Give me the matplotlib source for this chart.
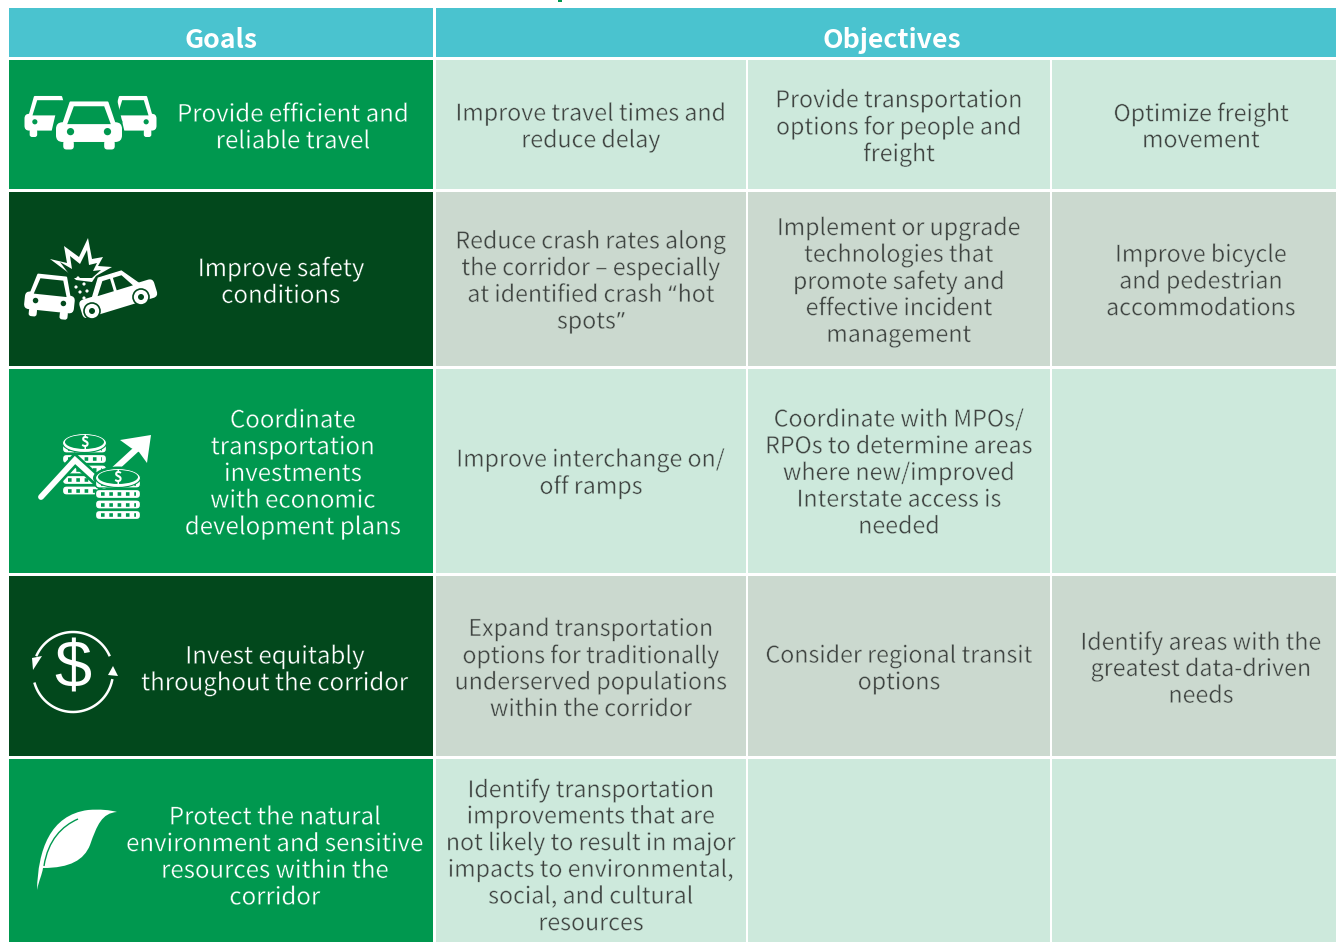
import matplotlib
matplotlib.use("Agg")
import matplotlib.pyplot as plt
import matplotlib.patheffects as pe
import numpy as np
from matplotlib.patches import Rectangle, Ellipse, Polygon, PathPatch, FancyBboxPatch, Circle
from matplotlib.path import Path
import matplotlib.transforms as mtrans

plt.rcParams['font.family'] = ['Noto Sans CJK SC', 'DejaVu Sans']

headers = ["Goals", "Objectives"]
goals = [
    ["Provide efficient and", "reliable travel"],
    ["Improve safety", "conditions"],
    ["Coordinate", "transportation", "investments", "with economic", "development plans"],
    ["Invest equitably", "throughout the corridor"],
    ["Protect the natural", "environment and sensitive", "resources within the", "corridor"],
]
objectives_1 = [
    ["Improve travel times and", "reduce delay"],
    ["Reduce crash rates along", "the corridor \u2013 especially", "at identified crash \u201chot", "spots\u201d"],
    ["Improve interchange on/", "off ramps"],
    ["Expand transportation", "options for traditionally", "underserved populations", "within the corridor"],
    ["Identify transportation", "improvements that are", "not likely to result in major", "impacts to environmental,", "social, and cultural", "resources"],
]
objectives_2 = [
    ["Provide transportation", "options for people and", "freight"],
    ["Implement or upgrade", "technologies that", "promote safety and", "effective incident", "management"],
    ["Coordinate with MPOs/", "RPOs to determine areas", "where new/improved", "Interstate access is", "needed"],
    ["Consider regional transit", "options"],
    [],
]
objectives_3 = [
    ["Optimize freight", "movement"],
    ["Improve bicycle", "and pedestrian", "accommodations"],
    [],
    ["Identify areas with the", "greatest data-driven", "needs"],
    [],
]

TEAL = "#4ac3cf"
GREEN = "#00984f"
DARK = "#02481c"
LIGHT = "#cde9dc"
GREY = "#cbd9cf"
INK = "#3f4441"

col_x = [(9, 433), (436, 746), (748, 1050), (1052, 1336)]
row_y = [(60, 189), (192, 366), (369, 573), (576, 756), (759, 942)]
goal_cx = [293, 281, 293, 275, 275]
row_cy = [125, 279.5, 471, 667, 854.5]
LINE = 26.7

fig = plt.figure(figsize=(13.36, 9.42), dpi=100)
ax = fig.add_axes([0, 0, 1, 1])
ax.set_xlim(0, 1336)
ax.set_ylim(942, 0)
ax.axis('off')
renderer = fig.canvas.get_renderer()


def rect(x0, x1, y0, y1, c):
    ax.add_patch(Rectangle((x0, y0), x1 - x0, y1 - y0, fc=c, ec='none', zorder=1))


def quoted_line(s, cx, y, kw):
    # the CJK font has full width curly quotes, so those come from plain Noto Sans
    parts = []
    for piece in s.replace("\u201c", "|\u201c|").replace("\u201d", "|\u201d|").split("|"):
        if piece.strip():
            parts.append(piece.strip())
    texts = []
    for piece in parts:
        fam = 'Noto Sans' if piece in "\u201c\u201d" else 'Noto Sans CJK SC'
        texts.append(ax.text(0, y, piece, family=fam, ha='left', va='center_baseline', **kw))
    widths = [t.get_window_extent(renderer).width for t in texts]
    gap = [6 if p.endswith("crash") else 1 for p in parts]
    total = sum(widths) + sum(gap[:-1])
    x = cx - total / 2
    for t, w, g in zip(texts, widths, gap):
        t.set_x(x)
        x += w + g


def block(lines, cx, cy, color, bg, size, thin):
    n = len(lines)
    kw = dict(color=color, fontsize=size, zorder=5,
              path_effects=[pe.Stroke(linewidth=thin, foreground=bg)])
    for i, s in enumerate(lines):
        y = cy + (i - (n - 1) / 2) * LINE
        if "\u201c" in s or "\u201d" in s:
            quoted_line(s, cx, y, kw)
        else:
            ax.text(cx, y, s, ha='center', va='center_baseline', **kw)


# header
rect(9, 433, 8, 57, TEAL)
rect(436, 1336, 8, 57, TEAL)
ax.text(221, 37, headers[0], color='white', fontsize=19.2, weight='bold', ha='center', va='center_baseline')
ax.text(892, 37, headers[1], color='white', fontsize=19.2, weight='bold', ha='center', va='center_baseline')
rect(558, 562, 0, 2, GREEN)

for i, (y0, y1) in enumerate(row_y):
    odd = i % 2 == 1
    bg = GREY if odd else LIGHT
    gbg = DARK if odd else GREEN
    rect(col_x[0][0], col_x[0][1], y0, y1, gbg)
    for x0, x1 in col_x[1:]:
        rect(x0, x1, y0, y1, bg)
    block(goals[i], goal_cx[i], row_cy[i], 'white', gbg, 17.3, 0.25)
    block(objectives_1[i], 591, row_cy[i], INK, bg, 16.7, 0.3)
    block(objectives_2[i], 899, row_cy[i], INK, bg, 16.7, 0.3)
    block(objectives_3[i], 1201, row_cy[i], INK, bg, 16.7, 0.3)


def car(cx, cy, w, h, bg, angle=0, z=3):
    # front view of a car
    tr = mtrans.Affine2D().rotate_deg_around(cx, cy, angle) + ax.transData

    def add(p):
        p.set_transform(tr)
        ax.add_patch(p)
    add(FancyBboxPatch((cx - w / 2, cy - h * 0.08), w, h * 0.42, boxstyle="round,pad=0,rounding_size=%f" % (w * 0.1),
                       fc='white', ec='none', zorder=z))
    add(Polygon([(cx - w * .40, cy), (cx - w * .28, cy - h * .5), (cx + w * .28, cy - h * .5), (cx + w * .40, cy)],
                fc='white', ec='white', lw=1.5, joinstyle='round', zorder=z))
    add(Polygon([(cx - w * .33, cy - h * .04), (cx - w * .23, cy - h * .42), (cx + w * .23, cy - h * .42), (cx + w * .33, cy - h * .04)],
                fc=bg, ec='none', zorder=z))
    for s in (-1, 1):
        add(FancyBboxPatch((cx + s * w * .31 - w * .08, cy + h * .3), w * .16, h * .2,
                           boxstyle="round,pad=0,rounding_size=%f" % (w * .05), fc='white', ec='none', zorder=z))
        add(Circle((cx + s * w * .28, cy + h * .12), w * .055, fc=bg, ec='none', zorder=z + 0.1))


# traffic icon
car(48, 117, 47, 40, GREEN)
car(133, 117, 47, 40, GREEN)
ax.add_patch(Polygon([(51, 146), (61, 103), (115, 103), (125, 146)], fc=GREEN, ec=GREEN, lw=4, zorder=3.5))
car(89, 126, 66, 47, GREEN, z=4)

# crash icon
car(50, 297, 50, 42, DARK, angle=6)
tr = mtrans.Affine2D().rotate_deg_around(115, 295, -17) + ax.transData
p = FancyBboxPatch((78, 290), 78, 19, boxstyle="round,pad=0,rounding_size=5", fc='white', ec='none', zorder=3.4)
p.set_transform(tr)
ax.add_patch(p)
p = Polygon([(92, 292), (104, 274), (128, 274), (142, 292)], fc='white', ec='white', lw=1, zorder=3.4)
p.set_transform(tr)
ax.add_patch(p)
for pts in ([(98, 291), (107, 278), (115, 278), (115, 291)], [(118, 291), (118, 278), (127, 278), (135, 291)]):
    p = Polygon(pts, fc=DARK, ec='none', zorder=3.5)
    p.set_transform(tr)
    ax.add_patch(p)
for wx, wy in ((92, 311), (141, 297)):
    ax.add_patch(Circle((wx, wy), 8, fc='white', ec=DARK, lw=1.2, zorder=3.6))
    ax.add_patch(Circle((wx, wy), 3, fc=DARK, ec='none', zorder=3.7))
ax.add_patch(Polygon([(50, 259), (67, 263), (64, 246), (79, 257), (88, 238), (92, 259), (103, 257), (98, 266), (112, 267),
                      (96, 276), (92, 282), (76, 280), (70, 274)], fc='white', ec='none', zorder=2.5))
ax.add_patch(Polygon([(60, 262), (72, 269), (70, 256), (80, 264), (87, 250), (89, 265), (97, 263), (93, 271), (101, 270),
                      (92, 278), (72, 278)], fc=DARK, ec='none', zorder=2.6))
for x, y in ((78, 278), (84, 284), (76, 287), (87, 291), (80, 292), (84, 298)):
    ax.add_patch(Circle((x, y), 1.6, fc='white', ec='none', zorder=3.8))


# coins icon
def stack(cx, top, n, z, w=45, gap=10.5):
    for k in range(n - 1, -1, -1):
        y = top + 10 + k * gap
        ax.add_patch(FancyBboxPatch((cx - w / 2, y), w, gap - 1.5, boxstyle="round,pad=0,rounding_size=4",
                                    fc='white', ec=GREEN, lw=0.9, zorder=z))
        ax.plot([cx - w / 2 + 5, cx + w / 2 - 5], [y + gap * 0.5 - 0.5] * 2, color=GREEN, lw=2.6,
                ls=(0, (1.0, 1.3)), zorder=z + .01)
    ax.add_patch(Ellipse((cx, top + 9), w, 19, fc='white', ec=GREEN, lw=0.8, zorder=z + .1))
    ax.add_patch(Ellipse((cx, top + 8), w - 5, 14, fc=GREEN, ec='none', zorder=z + .11))
    ax.text(cx, top + 8, "$", color='white', fontsize=10.5, weight='bold', ha='center', va='center', zorder=z + .2)


stack(84.5, 434, 5, 3, w=44)
ax.plot([41, 75, 100], [497, 460, 483], color=GREEN, lw=8, solid_joinstyle='miter', zorder=3.3)
ax.plot([41, 75, 97], [497, 460, 480], color='white', lw=4.2, solid_capstyle='round', solid_joinstyle='miter', zorder=3.4)
ax.add_patch(Ellipse((118, 478), 50, 23, fc=GREEN, ec='none', zorder=3.5))
stack(118, 469, 4, 3.6, w=45)
ax.plot([117, 142], [467, 444], color='white', lw=4.5, zorder=3)
ax.add_patch(Polygon([(120, 440), (151, 435), (147, 463), (139, 452), (131, 448)], fc='white', ec='none', zorder=3))

# equity icon
ax.text(73, 671, "$", color='white', fontsize=48, family='Liberation Sans', ha='center', va='center', zorder=4)
t = np.radians(np.linspace(25, 155, 40))
ax.plot(73 + 40 * np.cos(t), 672 - 40 * np.sin(t), color='white', lw=1.8, zorder=4)
t = np.radians(np.linspace(197, 348, 40))
ax.plot(73 + 40 * np.cos(t), 672 - 40 * np.sin(t), color='white', lw=1.8, zorder=4)
ax.add_patch(Polygon([(32, 658), (42, 656), (33, 670)], fc='white', ec='none', zorder=4))
ax.add_patch(Polygon([(108, 675), (118, 676), (113, 666)], fc='white', ec='none', zorder=4))

# leaf icon
leaf = Path([(37, 890), (38, 850), (50, 815), (88, 810), (100, 809), (110, 810), (117, 812),
             (102, 813), (97, 825), (90, 845), (84, 860), (70, 868), (43, 868), (42, 875), (39, 880), (37, 890)],
            [Path.MOVETO] + [Path.CURVE4] * 15)
ax.add_patch(PathPatch(leaf, fc='white', ec='none', zorder=4))
vein = Path([(44, 866), (48, 840), (62, 826), (78, 819)], [Path.MOVETO, Path.CURVE4, Path.CURVE4, Path.CURVE4])
ax.add_patch(PathPatch(vein, fc='none', ec=GREEN, lw=1.0, zorder=4.1))

fig.savefig("out.png", dpi=100)
